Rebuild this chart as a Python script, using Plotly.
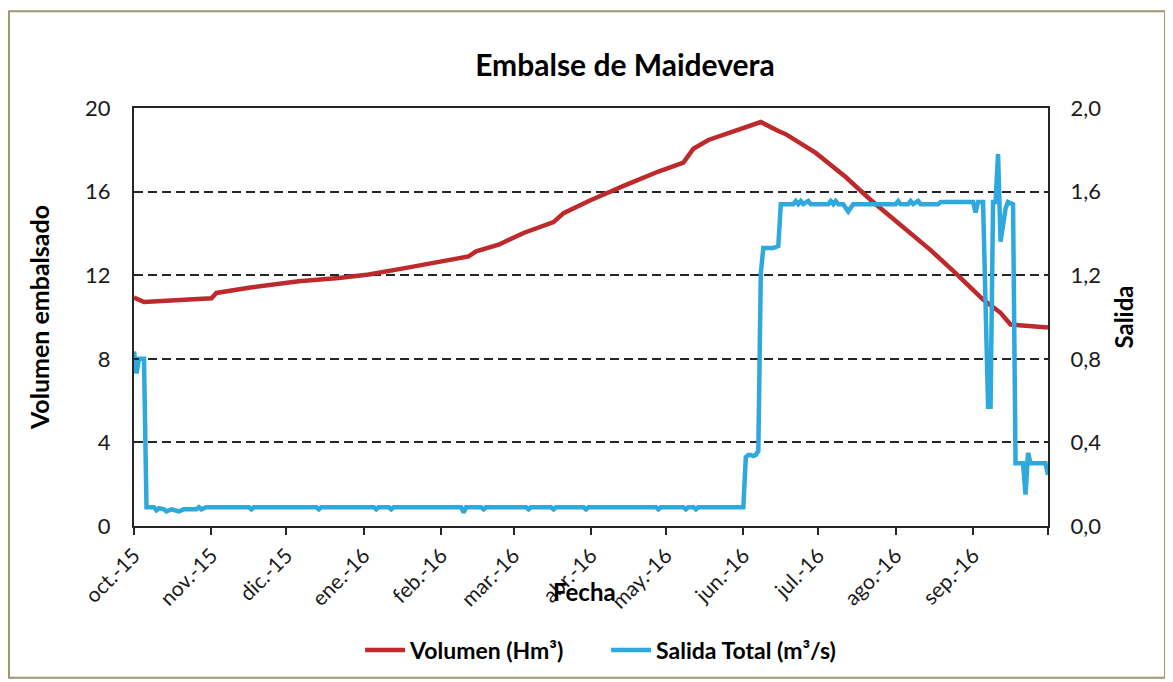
import plotly.graph_objects as go

# ---------------- data ----------------
vol_dates = ["2015-10-01", "2015-10-05", "2015-11-01", "2015-11-03", "2015-11-16", "2015-12-06",
             "2015-12-22", "2016-01-03", "2016-01-18", "2016-02-01", "2016-02-12", "2016-02-15",
             "2016-02-24", "2016-03-05", "2016-03-17", "2016-03-21", "2016-04-01", "2016-04-15",
             "2016-04-28", "2016-05-08", "2016-05-12", "2016-05-18", "2016-05-24", "2016-06-01",
             "2016-06-08", "2016-06-15", "2016-06-18", "2016-06-30", "2016-07-12", "2016-07-22",
             "2016-08-02", "2016-08-15", "2016-08-25", "2016-09-05", "2016-09-12", "2016-09-16",
             "2016-10-01"]
vol_values = [10.93, 10.72, 10.90, 11.15, 11.40, 11.71,
              11.87, 12.03, 12.35, 12.66, 12.90, 13.14,
              13.46, 14.02, 14.54, 14.97, 15.60, 16.32,
              16.96, 17.39, 18.05, 18.47, 18.70, 19.03,
              19.33, 18.90, 18.75, 17.85, 16.70, 15.60,
              14.50, 13.20, 12.10, 10.83, 10.20, 9.64,
              9.50]

out_dates = ["2015-10-01", "2015-10-02", "2015-10-03", "2015-10-05", "2015-10-06", "2015-10-09",
             "2015-10-10", "2015-10-11", "2015-10-13", "2015-10-14", "2015-10-16", "2015-10-18",
             "2015-10-19", "2015-10-21", "2015-10-26", "2015-10-27", "2015-10-28", "2015-10-30",
             "2015-11-16", "2015-11-17", "2015-11-18", "2015-12-13", "2015-12-14", "2015-12-15",
             "2016-01-05", "2016-01-06", "2016-01-07", "2016-01-11", "2016-01-12", "2016-01-13",
             "2016-02-09", "2016-02-10", "2016-02-11", "2016-02-17", "2016-02-18", "2016-02-19",
             "2016-03-06", "2016-03-07", "2016-03-08", "2016-03-16", "2016-03-17", "2016-03-18",
             "2016-03-29", "2016-03-30", "2016-03-31", "2016-04-27", "2016-04-28", "2016-04-29",
             "2016-05-08", "2016-05-09", "2016-05-10", "2016-05-12", "2016-05-13", "2016-05-14",
             "2016-06-01", "2016-06-02", "2016-06-03", "2016-06-04", "2016-06-05", "2016-06-06",
             "2016-06-07", "2016-06-08", "2016-06-09", "2016-06-13", "2016-06-15", "2016-06-16",
             "2016-06-21", "2016-06-22", "2016-06-23", "2016-06-24", "2016-06-25", "2016-06-27",
             "2016-06-28", "2016-07-05", "2016-07-06", "2016-07-07", "2016-07-08", "2016-07-09",
             "2016-07-11", "2016-07-13", "2016-07-15", "2016-08-01", "2016-08-02", "2016-08-03",
             "2016-08-06", "2016-08-07", "2016-08-08", "2016-08-10", "2016-08-11", "2016-08-18",
             "2016-08-19", "2016-09-01", "2016-09-02", "2016-09-03", "2016-09-05", "2016-09-07",
             "2016-09-08", "2016-09-09", "2016-09-10", "2016-09-11", "2016-09-12", "2016-09-14",
             "2016-09-15", "2016-09-17", "2016-09-18", "2016-09-21", "2016-09-22", "2016-09-23",
             "2016-09-24", "2016-09-30", "2016-10-01"]
out_values = [0.835, 0.73, 0.80, 0.80, 0.09, 0.09,
              0.075, 0.085, 0.08, 0.07, 0.08, 0.075,
              0.07, 0.08, 0.08, 0.09, 0.08, 0.09,
              0.09, 0.08, 0.09, 0.09, 0.08, 0.09,
              0.09, 0.08, 0.09, 0.09, 0.08, 0.09,
              0.09, 0.065, 0.09, 0.09, 0.08, 0.09,
              0.09, 0.08, 0.09, 0.09, 0.08, 0.09,
              0.09, 0.08, 0.09, 0.09, 0.08, 0.09,
              0.09, 0.08, 0.09, 0.09, 0.08, 0.09,
              0.09, 0.33, 0.34, 0.34, 0.335, 0.34,
              0.36, 1.21, 1.33, 1.33, 1.34, 1.54,
              1.54, 1.555, 1.54, 1.555, 1.54, 1.555,
              1.54, 1.54, 1.555, 1.54, 1.555, 1.54,
              1.54, 1.505, 1.54, 1.54, 1.555, 1.54,
              1.54, 1.555, 1.54, 1.555, 1.54, 1.54,
              1.55, 1.55, 1.50, 1.55, 1.55, 0.57,
              0.57, 1.55, 1.55, 1.78, 1.36, 1.52,
              1.55, 1.54, 0.30, 0.30, 0.15, 0.35,
              0.30, 0.30, 0.245]

month_ticks = ["2015-10-01", "2015-11-01", "2015-12-01", "2016-01-01", "2016-02-01", "2016-03-01",
               "2016-04-01", "2016-05-01", "2016-06-01", "2016-07-01", "2016-08-01", "2016-09-01",
               "2016-10-01"]
month_labels = ["oct.-15", "nov.-15", "dic.-15", "ene.-16", "feb.-16", "mar.-16", "abr.-16",
                "may.-16", "jun.-16", "jul.-16", "ago.-16", "sep.-16", ""]

vol_ticks = [0, 4, 8, 12, 16, 20]
out_ticks = [0.0, 0.4, 0.8, 1.2, 1.6, 2.0]
out_tick_labels = ["0,0", "0,4", "0,8", "1,2", "1,6", "2,0"]

# ---------------- figure ----------------
FONT = "Lato"
RED = "#BE2A2C"
BLUE = "#2FA8DE"
AXC = "#262626"
TICKC = "#1a1a1a"

fig = go.Figure()
fig.add_trace(go.Scatter(x=vol_dates, y=vol_values, name="Volumen (Hm³)", mode="lines",
                         line=dict(color=RED, width=4.5), yaxis="y"))
fig.add_trace(go.Scatter(x=out_dates, y=out_values, name="Salida Total (m³/s)", mode="lines",
                         line=dict(color=BLUE, width=4.5), yaxis="y2"))

fig.update_layout(
    width=1165, height=674,
    margin=dict(l=126, r=125, t=100, b=155),
    paper_bgcolor="white", plot_bgcolor="white",
    font=dict(family=FONT, color=TICKC, size=22),
    title=dict(text="<b>Embalse de Maidevera</b>", x=0.5296, xref="container", xanchor="center",
               y=0.9154, yref="container", yanchor="middle",
               font=dict(family=FONT, size=30, color="black")),
    showlegend=True,
    legend=dict(orientation="h", x=0.5165, xanchor="center", y=-0.2936, yanchor="middle",
                font=dict(family=FONT, size=23, color="black", weight="bold"),
                itemwidth=40, entrywidth=191, entrywidthmode="pixels",
                bgcolor="rgba(0,0,0,0)"),
    xaxis=dict(type="date", range=["2015-10-01", "2016-10-01"],
               tickvals=month_ticks, ticktext=month_labels, tickangle=-45,
               ticks="outside", ticklen=7, tickwidth=2, tickcolor=AXC,
               showline=True, linecolor=AXC, linewidth=2, mirror=True,
               showgrid=False, zeroline=False,
               tickfont=dict(family=FONT, size=21, color=TICKC)),
    yaxis=dict(range=[0, 20], tickvals=vol_ticks, ticks="inside", ticklen=5, tickwidth=2,
               tickcolor=AXC, showline=True, linecolor=AXC, linewidth=2,
               showgrid=True, gridcolor=AXC, gridwidth=2, griddash="9px,5px",
               zeroline=False, ticklabelstandoff=17,
               tickfont=dict(family=FONT, size=22, color=TICKC),
               title=dict(text="<b>Volumen embalsado</b>", standoff=28,
                          font=dict(family=FONT, size=25, color="black"))),
    yaxis2=dict(range=[0, 2], overlaying="y", side="right", tickvals=out_ticks,
                ticktext=out_tick_labels, ticks="", showline=True, linecolor=AXC, linewidth=2,
                showgrid=False, zeroline=False, ticklabelstandoff=16,
                tickfont=dict(family=FONT, size=22, color=TICKC),
                title=dict(text="<b>Salida</b>", standoff=16,
                           font=dict(family=FONT, size=24, color="black"))),
    annotations=[dict(text="<b>Fecha</b>", xref="paper", yref="paper", x=0.4934, y=-0.1575,
                      xanchor="center", yanchor="middle", showarrow=False,
                      font=dict(family=FONT, size=24, color="black"))],
    shapes=[dict(type="rect", xref="paper", yref="paper", x0=-0.1368, x1=1.128,
                 y0=-0.3628, y1=1.2315, line=dict(color="#9C9870", width=2), layer="below")],
)

fig.write_html("out.html")
